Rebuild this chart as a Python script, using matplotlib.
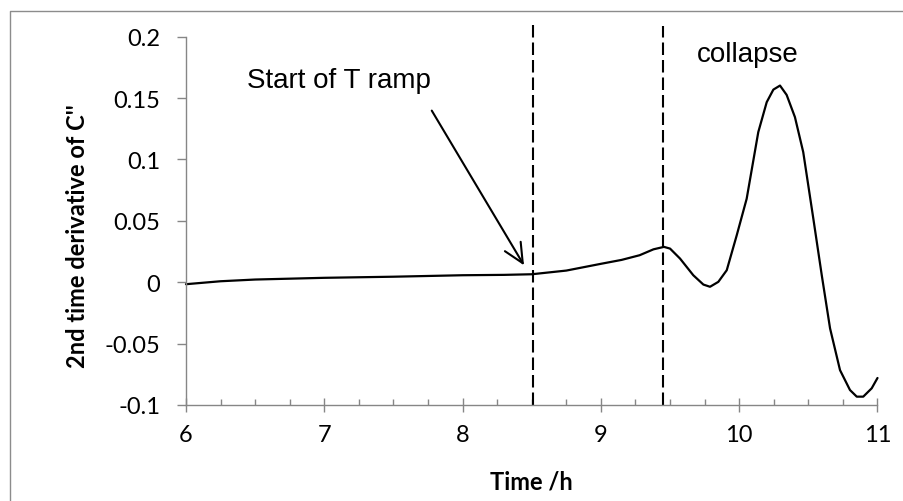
import matplotlib.pyplot as plt
from matplotlib.lines import Line2D
from matplotlib.ticker import MultipleLocator

# curve
time_h = [6.0, 6.25, 6.5, 7.0, 7.5, 8.0, 8.3, 8.5, 8.75, 9.0, 9.15, 9.28,
          9.38, 9.456, 9.5, 9.572, 9.668, 9.741, 9.789, 9.849, 9.91, 9.982,
          10.054, 10.138, 10.199, 10.247, 10.295, 10.343, 10.403, 10.463,
          10.536, 10.597, 10.657, 10.729, 10.801, 10.85, 10.897, 10.958, 11.0]
d2c = [-0.0016, 0.0008, 0.0022, 0.0036, 0.0045, 0.0057, 0.006, 0.0065,
       0.0095, 0.015, 0.0182, 0.022, 0.0268, 0.0288, 0.0274, 0.0193, 0.0057,
       -0.0019, -0.0037, 0.0003, 0.0098, 0.0382, 0.068, 0.1223, 0.1467,
       0.1569, 0.1602, 0.1526, 0.1345, 0.106, 0.0518, 0.0057, -0.0376,
       -0.0716, -0.0878, -0.0932, -0.0932, -0.0864, -0.078]

marker_times = [8.51, 9.45]
marker_tops = [0.213, 0.209]

xticks = [6, 7, 8, 9, 10, 11]
yticks = [-0.1, -0.05, 0, 0.05, 0.1, 0.15, 0.2]
ytick_labels = ['-0.1', '-0.05', '0', '0.05', '0.1', '0.15', '0.2']

axis_grey = '#868686'
tick_font = 'Lato'
note_font = 'Liberation Sans'

fig = plt.figure(figsize=(9.04, 5.02), dpi=100)
ax = fig.add_axes([186 / 904, 1 - 406 / 502, (877.5 - 186) / 904, (406 - 37.7) / 502])

ax.plot(time_h, d2c, color='black', lw=1.6, solid_joinstyle='round',
        solid_capstyle='round', clip_on=False)

for t, top in zip(marker_times, marker_tops):
    ax.plot([t, t], [-0.1, top], color='black', lw=1.5,
            dashes=(6, 2.4), clip_on=False)

ax.annotate('', xy=(8.444, 0.0138), xytext=(7.777, 0.1398),
            arrowprops=dict(arrowstyle='->,head_length=0.7,head_width=0.33',
                            color='black', lw=1.5, shrinkA=0, shrinkB=0),
            fontsize=20)
ax.text(6.441, 0.159, 'Start of T ramp', fontsize=20, family=note_font,
        va='baseline', ha='left')
ax.text(9.695, 0.1802, 'collapse', fontsize=20, family=note_font,
        va='baseline', ha='left')

ax.set_xlim(6, 11)
ax.set_ylim(-0.1, 0.2)
ax.set_xticks(xticks)
ax.set_xticklabels([str(v) for v in xticks])
ax.xaxis.set_minor_locator(MultipleLocator(0.25))
ax.set_yticks(yticks)
ax.set_yticklabels(ytick_labels)

for side in ['top', 'right']:
    ax.spines[side].set_visible(False)
for side in ['left', 'bottom']:
    ax.spines[side].set_color(axis_grey)
    ax.spines[side].set_linewidth(1.0)

ax.tick_params(axis='x', which='major', direction='inout', length=9.5,
               width=1.0, color=axis_grey, pad=9, labelsize=17)
ax.tick_params(axis='x', which='minor', direction='in', length=4.5,
               width=1.0, color=axis_grey)
ax.tick_params(axis='y', which='major', direction='out', length=6.5,
               width=1.0, color=axis_grey, pad=12, labelsize=17)
for lab in ax.get_xticklabels() + ax.get_yticklabels():
    lab.set_family(tick_font)

fig.text(531 / 904, 1 - 482 / 502, 'Time /h', family=tick_font,
         fontweight='bold', fontsize=17, ha='center', va='center')
fig.text(78 / 904, 1 - 236 / 502, "2nd time derivative of C''",
         family=tick_font, fontweight='bold', fontsize=17,
         rotation=90, ha='center', va='center')

# outer chart frame (only left and top edges show)
fig.add_artist(Line2D([10 / 904, 10 / 904, 1], [0, 1 - 11.5 / 502, 1 - 11.5 / 502],
                      color='#8c8c8c', lw=1.0))

fig.savefig('out.png', dpi=100)
